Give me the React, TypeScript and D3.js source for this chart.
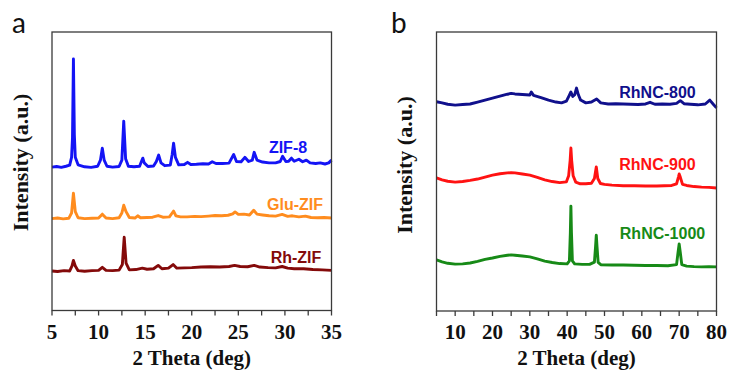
import React, { useEffect, useRef } from "react";
import * as d3 from "d3";

// ---- panel a: ZIF samples, 2θ vs intensity (a.u., stacked offsets) ----
const zif8 = [
  [5.0, 51.5], [5.5, 51.7], [6.0, 51.4], [6.5, 51.8], [6.9, 52.2], [7.1, 55], [7.2, 62], [7.3, 90.3], [7.4, 63], [7.5, 55],
  [7.8, 52.3], [8.5, 51.6], [9.2, 51.4], [9.9, 51.8], [10.2, 54], [10.4, 58.3], [10.6, 54], [10.9, 51.8], [11.5, 51.5],
  [12.2, 51.7], [12.5, 54], [12.7, 68], [12.9, 54.5], [13.2, 51.8], [13.8, 51.6], [14.4, 51.8], [14.6, 53.5], [14.75, 54.7],
  [14.9, 53], [15.3, 51.7], [15.9, 51.9], [16.2, 53.5], [16.45, 55.8], [16.7, 53], [17.1, 52], [17.7, 52.2], [17.9, 56],
  [18.05, 60.1], [18.25, 55], [18.6, 52.3], [19.2, 52.4], [19.55, 53.2], [19.9, 52.4], [20.5, 52.5], [21.2, 52.7],
  [21.8, 52.6], [22.2, 53.4], [22.6, 52.8], [23.3, 52.8], [24.0, 52.9], [24.5, 56], [24.8, 53.5], [25.3, 53.4],
  [25.7, 55.0], [26.1, 53.5], [26.5, 54], [26.7, 56.8], [27.0, 54], [27.6, 53.3], [28.3, 53.0], [29.0, 53.0], [29.5, 53.5],
  [29.75, 55.4], [30.1, 53.5], [30.4, 53.6], [30.7, 54.7], [31.0, 53.6], [31.5, 54.3], [31.9, 53.4], [32.3, 54.0],
  [32.7, 53.0], [33.3, 52.8], [33.8, 53.0], [34.3, 52.6], [34.7, 53.0], [35.0, 54.0],
];
const gluZif = [
  [5.0, 33.0], [5.6, 33.2], [6.2, 32.9], [6.8, 33.1], [7.1, 35], [7.3, 42.1], [7.5, 35.5], [7.8, 33.3], [8.5, 33.0],
  [9.3, 33.1], [10.0, 33.2], [10.4, 34.6], [10.8, 33.2], [11.5, 33.0], [12.2, 33.3], [12.5, 35], [12.7, 37.8], [12.95, 35.5],
  [13.3, 33.4], [13.9, 33.2], [14.2, 34.0], [14.5, 33.3], [15.2, 33.4], [15.8, 33.5], [16.4, 34.1], [16.9, 33.5],
  [17.6, 33.6], [17.9, 35], [18.05, 35.7], [18.3, 34], [18.8, 33.6], [19.5, 33.6], [20.3, 33.8], [21.0, 33.7], [21.8, 33.9],
  [22.5, 34.1], [23.2, 34.0], [23.9, 34.2], [24.4, 34.7], [24.65, 35.4], [25.0, 34.5], [25.6, 34.6], [26.2, 34.3],
  [26.65, 36.0], [27.0, 34.6], [27.6, 34.3], [28.3, 34.0], [29.0, 33.9], [29.7, 34.5], [30.3, 33.8], [30.8, 34.0],
  [31.5, 33.6], [32.2, 33.9], [32.8, 33.4], [33.5, 33.3], [34.2, 33.4], [35.0, 33.2],
];
const rhZif = [
  [5.0, 14.2], [5.6, 14.0], [6.3, 14.3], [6.9, 14.2], [7.15, 16], [7.3, 18.0], [7.5, 16], [7.8, 14.3], [8.5, 14.1],
  [9.3, 14.3], [10.0, 14.4], [10.4, 15.5], [10.8, 14.4], [11.5, 14.3], [12.2, 14.5], [12.55, 16.5], [12.75, 26.3],
  [12.95, 17], [13.3, 14.6], [14.0, 14.7], [14.7, 15.2], [15.2, 14.8], [15.9, 15.0], [16.4, 16.2], [16.8, 15.0],
  [17.5, 15.2], [18.0, 16.5], [18.4, 15.2], [19.2, 15.3], [20.0, 15.4], [21.0, 15.6], [22.0, 15.7], [23.0, 15.6],
  [24.0, 15.8], [24.6, 16.2], [25.2, 15.8], [26.0, 15.7], [26.7, 16.2], [27.3, 15.6], [28.2, 15.4], [29.0, 15.3],
  [29.7, 15.8], [30.3, 15.2], [31.0, 15.0], [32.0, 15.0], [33.0, 14.7], [34.0, 14.6], [35.0, 14.4],
];

// ---- panel b: RhNC samples ----
const rhnc800 = [
  [5, 75.0], [6.5, 74.6], [8, 74.1], [10, 73.8], [12, 74.0], [14, 74.2], [16, 74.9], [18, 75.6], [20, 76.3], [22, 77.0],
  [24, 77.7], [25, 78.0], [26, 77.8], [28, 77.6], [30, 77.4], [30.4, 78.5], [31, 77.3], [33, 76.5], [35, 75.6], [37, 74.9],
  [38.5, 74.6], [39.8, 75.2], [40.5, 77.1], [41.0, 78.5], [41.5, 76.9], [42.0, 77.5], [42.5, 79.9], [43.0, 77.5],
  [43.6, 75.6], [45, 74.6], [46.5, 74.9], [47.9, 76.0], [49, 74.6], [51, 74.2], [53, 74.3], [55, 74.2], [57, 74.1],
  [59, 74.0], [61, 74.2], [62.2, 74.8], [63.5, 74.1], [65.5, 74.2], [67.5, 74.1], [69.3, 74.4], [70.3, 75.4], [71.3, 74.3],
  [73, 74.1], [75, 73.9], [77, 74.2], [78.2, 75.6], [79.2, 74.0], [80, 72.8],
];
const rhnc900 = [
  [5, 47.7], [6.5, 47.0], [8, 46.5], [10, 46.2], [12, 46.4], [14, 46.8], [16, 47.3], [18, 48.0], [20, 48.7], [22, 49.2],
  [24, 49.5], [25, 49.6], [26, 49.5], [28, 49.1], [30, 48.7], [32, 47.9], [34, 47.0], [36, 46.4], [38, 46.0], [39.8, 46.3],
  [40.4, 48.5], [40.8, 54], [41.0, 58.4], [41.2, 54], [41.6, 48.5], [42.3, 46.2], [43.5, 45.6], [45, 45.6], [46.5, 45.8],
  [47.3, 47.5], [47.8, 51.6], [48.2, 47.5], [48.9, 45.7], [50, 45.4], [52, 45.1], [55, 44.9], [58, 44.9], [61, 44.8],
  [64, 44.8], [66, 44.9], [68, 45.0], [69.3, 45.6], [69.8, 48], [70.0, 49.1], [70.3, 48], [70.9, 45.4], [72, 45.0],
  [74, 44.6], [76, 44.4], [78, 44.3], [80, 44.1],
];
const rhnc1000 = [
  [5, 18.3], [6.5, 17.6], [8, 17.1], [10, 16.8], [12, 16.9], [14, 17.2], [16, 17.8], [18, 18.5], [20, 19.0], [22, 19.6],
  [24, 20.0], [25, 20.1], [26, 20.0], [28, 19.7], [30, 19.4], [32, 18.7], [34, 17.9], [36, 17.4], [38, 17.0], [40, 16.9],
  [40.6, 18], [40.85, 28], [41.0, 37.6], [41.15, 28], [41.4, 18], [42, 16.9], [44, 16.7], [46, 16.7], [47.3, 17.5],
  [47.6, 23], [47.8, 27.2], [48.0, 23], [48.3, 17.4], [49, 16.6], [52, 16.5], [55, 16.5], [58, 16.4], [61, 16.3],
  [64, 16.3], [67, 16.2], [69.3, 16.6], [69.7, 21], [70.0, 24.0], [70.3, 21], [70.7, 16.6], [72, 16.1], [74, 15.9],
  [76, 15.8], [78, 15.9], [80, 15.8],
];

const seriesNamesA = ["ZIF-8", "Glu-ZIF", "Rh-ZIF"];
const seriesNamesB = ["RhNC-800", "RhNC-900", "RhNC-1000"];
const xDomainA = [5, 35];
const xDomainB = [5, 80];
const tickLabelsA = [5, 10, 15, 20, 25, 30, 35];
const tickLabelsB = [10, 20, 30, 40, 50, 60, 70, 80];

const App = () => {
  const svgRef = useRef(null);

  useEffect(() => {
    const svg = d3.select(svgRef.current);
    svg.selectAll("*").remove();

    const serif = "'Liberation Serif', 'Times New Roman', serif";
    const sans = "'Liberation Sans', Arial, sans-serif";

    const panels = [
      {
        letter: "a", letterX: 12, box: { l: 52, r: 331.5, t: 32, b: 310.5 },
        domain: xDomainA, minor: 2.5, labels: tickLabelsA, ylabelX: 27.5, ylabelY: 162.5,
        series: [
          { name: seriesNamesA[0], data: zif8, color: "#1414f5", lx: 288, ly: 153 },
          { name: seriesNamesA[1], data: gluZif, color: "#ff8c1e", lx: 295, ly: 210 },
          { name: seriesNamesA[2], data: rhZif, color: "#840a0a", lx: 296, ly: 262.5 },
        ],
      },
      {
        letter: "b", letterX: 391, box: { l: 436.5, r: 716.5, t: 32, b: 311 },
        domain: xDomainB, minor: 5, labels: tickLabelsB, ylabelX: 412, ylabelY: 165,
        series: [
          { name: seriesNamesB[0], data: rhnc800, color: "#10108c", lx: 657.5, ly: 97.5 },
          { name: seriesNamesB[1], data: rhnc900, color: "#ff1212", lx: 657.5, ly: 170 },
          { name: seriesNamesB[2], data: rhnc1000, color: "#178a17", lx: 662.5, ly: 238.5 },
        ],
      },
    ];

    panels.forEach((p) => {
      const { l, r, t, b } = p.box;
      const x = d3.scaleLinear().domain(p.domain).range([l, r]);
      const y = d3.scaleLinear().domain([0, 100]).range([b, t]);

      // panel letter
      svg.append("text")
        .attr("x", p.letterX)
        .attr("y", 33)
        .style("font-family", "Lato, 'Open Sans', sans-serif")
        .style("font-size", "28px")
        .attr("fill", "#111")
        .text(p.letter);

      // traces
      const line = d3.line().x((d) => x(d[0])).y((d) => y(d[1]));
      p.series.forEach((s) => {
        svg.append("path")
          .datum(s.data)
          .attr("d", line)
          .attr("fill", "none")
          .attr("stroke", s.color)
          .attr("stroke-width", 2.9)
          .attr("stroke-linejoin", "round");

        svg.append("text")
          .attr("x", s.lx)
          .attr("y", s.ly)
          .attr("text-anchor", "middle")
          .style("font-family", sans)
          .style("font-weight", "bold")
          .style("font-size", "16px")
          .attr("fill", s.color)
          .text(s.name);
      });

      // frame
      svg.append("rect")
        .attr("x", l).attr("y", t)
        .attr("width", r - l).attr("height", b - t)
        .attr("fill", "none")
        .attr("stroke", "#3a3a3a")
        .attr("stroke-width", 1.3);

      // x axis ticks (outward)
      const ticks = d3.range(p.domain[0], p.domain[1] + 0.001, p.minor);
      svg.append("g")
        .selectAll("line")
        .data(ticks)
        .enter()
        .append("line")
        .attr("x1", (d) => x(d)).attr("x2", (d) => x(d))
        .attr("y1", b).attr("y2", b + 5)
        .attr("stroke", "#3a3a3a")
        .attr("stroke-width", 1.3);

      // tick labels
      svg.append("g")
        .selectAll("text")
        .data(p.labels)
        .enter()
        .append("text")
        .attr("x", (d) => x(d))
        .attr("y", 338.5)
        .attr("text-anchor", "middle")
        .style("font-family", serif)
        .style("font-weight", "bold")
        .style("font-size", "21px")
        .attr("fill", "#111")
        .text((d) => d);

      // x axis title
      svg.append("text")
        .attr("x", (l + r) / 2)
        .attr("y", 365)
        .attr("text-anchor", "middle")
        .style("font-family", serif)
        .style("font-weight", "bold")
        .style("font-size", "21px")
        .attr("fill", "#111")
        .text("2 Theta (deg)");

      // y axis title
      svg.append("text")
        .attr("transform", `translate(${p.ylabelX},${p.ylabelY}) rotate(-90)`)
        .attr("text-anchor", "middle")
        .style("font-family", serif)
        .style("font-weight", "bold")
        .style("font-size", "22px")
        .attr("fill", "#111")
        .text("Intensity (a.u.)");
    });
  }, []);

  return (
    <div style={{ position: "absolute", left: 0, top: 0 }}>
      <svg ref={svgRef} width={732} height={370} style={{ display: "block", background: "#fff" }}></svg>
    </div>
  );
};

export default App;
